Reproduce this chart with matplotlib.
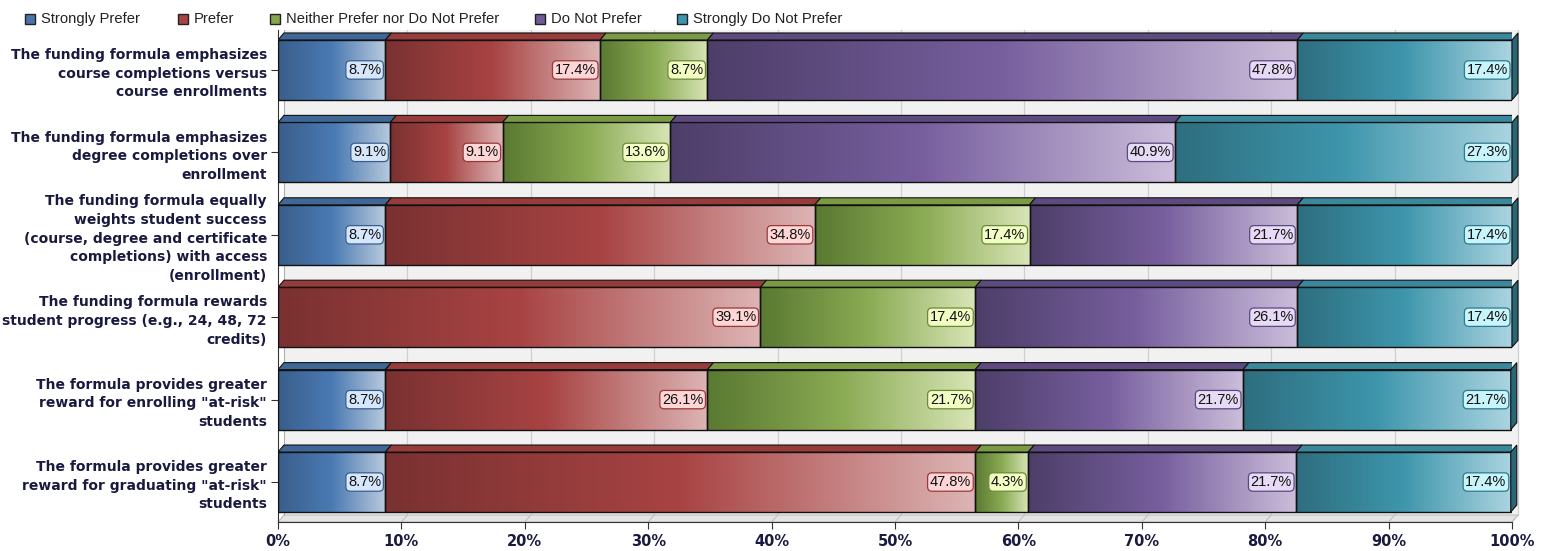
import numpy as np
import matplotlib.pyplot as plt
from matplotlib.colors import LinearSegmentedColormap
from matplotlib.patches import Polygon, Rectangle

# survey statements (top to bottom) and percentage of responses
questions = [
    "The funding formula emphasizes\ncourse completions versus\ncourse enrollments",
    "The funding formula emphasizes\ndegree completions over\nenrollment",
    "The funding formula equally\nweights student success\n(course, degree and certificate\ncompletions) with access\n(enrollment)",
    "The funding formula rewards\nstudent progress (e.g., 24, 48, 72\ncredits)",
    "The formula provides greater\nreward for enrolling \"at-risk\"\nstudents",
    "The formula provides greater\nreward for graduating \"at-risk\"\nstudents",
]
series_names = ["Strongly Prefer", "Prefer", "Neither Prefer nor Do Not Prefer",
                "Do Not Prefer", "Strongly Do Not Prefer"]
strongly_prefer = [8.7, 9.1, 8.7, 0.0, 8.7, 8.7]
prefer = [17.4, 9.1, 34.8, 39.1, 26.1, 47.8]
neither = [8.7, 13.6, 17.4, 17.4, 21.7, 4.3]
do_not_prefer = [47.8, 40.9, 21.7, 26.1, 21.7, 21.7]
strongly_do_not = [17.4, 27.3, 17.4, 17.4, 21.7, 17.4]
x_ticks = [0, 10, 20, 30, 40, 50, 60, 70, 80, 90, 100]

series = [strongly_prefer, prefer, neither, do_not_prefer, strongly_do_not]

# per series: gradient (dark, mid, light), top face, legend swatch, label box face, label box edge
styles = [
    (("#3a5e8c", "#4a7ab3", "#b9cade"), "#3f6898", "#4a73a8", "#d6e6fb", "#3a5e8c"),
    (("#7a3131", "#a84343", "#ddb4b4"), "#983b3b", "#a84343", "#ffd6d6", "#9a3838"),
    (("#5a7932", "#8aaa53", "#d8e5b6"), "#7b9a44", "#86a64e", "#f2fdc4", "#6a8a38"),
    (("#4d3e69", "#775f9e", "#cbbdda"), "#5d4a80", "#6e5a96", "#e6daf4", "#5a4880"),
    (("#2e6e7f", "#3e96ac", "#abd4e0"), "#3a889c", "#3e96ac", "#c8f4fb", "#2e7a8c"),
]
text_color = "#1a1a40"

W, H = 1544, 551
fig = plt.figure(figsize=(W / 100, H / 100), dpi=100)
ax_l, ax_r, ax_t, ax_b = 278, 1512, 30, 522
ax = fig.add_axes([ax_l / W, (H - ax_b) / H, (ax_r - ax_l) / W, (ax_b - ax_t) / H])

n = len(questions)
y_lo, y_hi = n - 1 + 0.485, -0.485
ax.set_xlim(0, 100)
ax.set_ylim(y_lo, y_hi)

px_x = 100 / (ax_r - ax_l)
px_y = (y_lo - y_hi) / (ax_b - ax_t)
dx, dy = 6 * px_x, 7 * px_y
bar_h = 60 * px_y

# back wall and floor
ax.add_patch(Polygon([(dx, y_hi), (100 + dx, y_hi), (100 + dx, y_lo - dy), (dx, y_lo - dy)],
                     closed=True, fc="#f1f1f1", ec="none", zorder=0, clip_on=False))
ax.add_patch(Polygon([(0, y_lo), (100, y_lo), (100 + dx, y_lo - dy), (dx, y_lo - dy)],
                     closed=True, fc="#e4e4e4", ec="#c0c0c0", lw=0.8, zorder=0.5, clip_on=False))
for xt in x_ticks[1:]:
    ax.plot([xt + dx, xt + dx], [y_hi, y_lo - dy], color="#cfcfcf", lw=0.9, zorder=0.6, clip_on=False)
    ax.plot([xt, xt + dx], [y_lo, y_lo - dy], color="#c0c0c0", lw=0.8, zorder=0.6, clip_on=False)
ax.plot([dx, dx], [y_hi, y_lo - dy], color="#b0b0b0", lw=0.8, zorder=0.6, clip_on=False)

grad = np.linspace(0, 1, 256).reshape(1, -1)
cmaps = [LinearSegmentedColormap.from_list(f"s{i}", list(s[0])) for i, s in enumerate(styles)]

for r in range(n):
    left = 0.0
    yb, yt = r + bar_h / 2, r - bar_h / 2
    vals = [s[r] for s in series]
    last = max(i for i, v in enumerate(vals) if v > 0)
    for i, v in enumerate(vals):
        if v <= 0:
            continue
        x0, x1 = left, left + v
        ax.imshow(grad, cmap=cmaps[i], aspect="auto", extent=(x0, x1, yb, yt),
                  interpolation="bicubic", zorder=2)
        ax.add_patch(Rectangle((x0, yt), v, bar_h, fc="none", ec="#111111", lw=1.0, zorder=3))
        ax.add_patch(Polygon([(x0, yt), (x1, yt), (x1 + dx, yt - dy), (x0 + dx, yt - dy)],
                             closed=True, fc=styles[i][1], ec="#111111", lw=0.8, zorder=3))
        if i == last:
            ax.add_patch(Polygon([(x1, yt), (x1 + dx, yt - dy), (x1 + dx, yb - dy), (x1, yb)],
                                 closed=True, fc="#2a6676", ec="#111111", lw=0.8,
                                 zorder=3, clip_on=False))
        ax.annotate(f"{v:.1f}%", xy=(x1, r), xytext=(-3, 0), textcoords="offset points",
                    ha="right", va="center", fontsize=10.5, family="Liberation Sans",
                    color="#111111", zorder=5,
                    bbox=dict(boxstyle="round,pad=0.15,rounding_size=0.3",
                              fc=styles[i][3], ec=styles[i][4], lw=0.9))
        left = x1

ax.set_yticks(range(n))
ax.set_yticklabels(questions, fontsize=10, fontweight="bold", family="DejaVu Sans",
                   color=text_color, linespacing=1.42, ha="right")
ax.set_xticks(x_ticks)
ax.set_xticklabels([f"{t}%" for t in x_ticks], fontsize=10.5, fontweight="bold",
                   family="DejaVu Sans", color=text_color)
ax.tick_params(axis="y", length=5, width=0.8, pad=3, color="#333333")
ax.tick_params(axis="x", length=5, width=0.8, pad=4, color="#333333")
for side in ["top", "right"]:
    ax.spines[side].set_visible(False)
ax.spines["left"].set_color("#333333")
ax.spines["bottom"].set_color("#333333")

# legend row
legend_x = [25, 178, 270, 535, 677]
for name, lx, st in zip(series_names, legend_x, styles):
    fig.patches.append(Rectangle((lx / W, 1 - 24 / H), 10 / W, 10 / H, transform=fig.transFigure,
                                 fc=st[2], ec="#222222", lw=1.0))
    fig.text((lx + 16) / W, 1 - 19 / H, name, fontsize=10.6, family="Liberation Sans",
             color="#222222", va="center", ha="left")

fig.savefig("out.png", dpi=100)
